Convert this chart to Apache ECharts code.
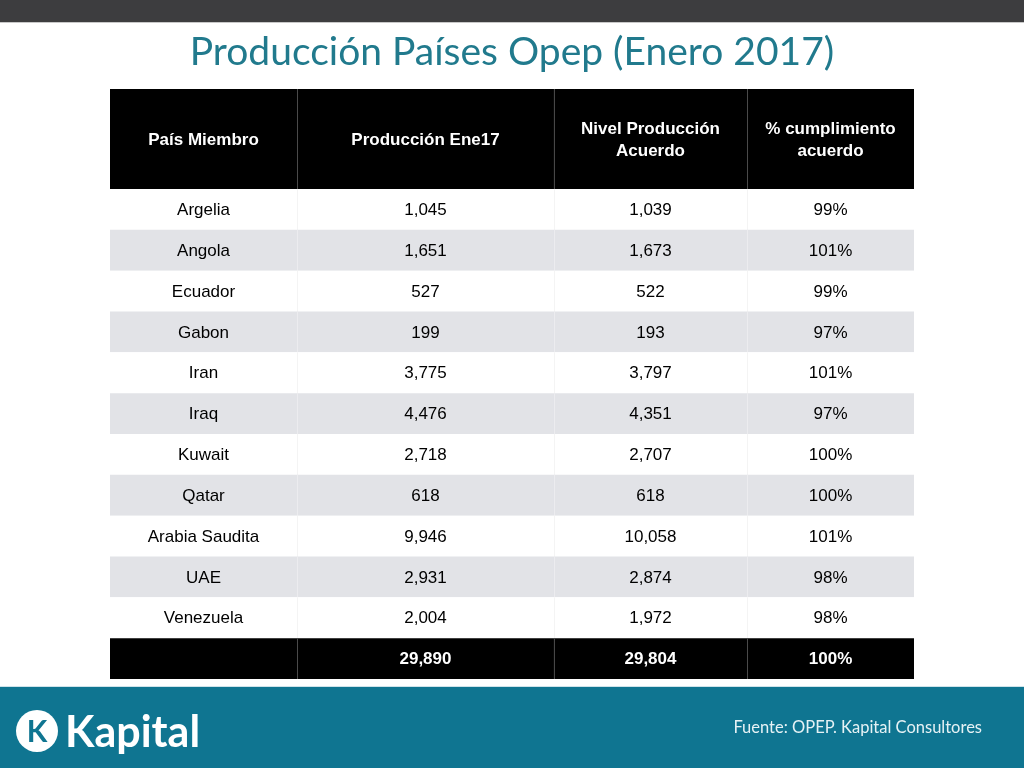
<!DOCTYPE html>
<html>
<head>
<meta charset="utf-8">
<script src="https://cdn.jsdelivr.net/npm/echarts@6/dist/echarts.min.js"></script>
<style>
  html, body { margin: 0; padding: 0; background: #fff; }
  #main { width: 1024px; height: 768px; }
</style>
</head>
<body>
<div id="main"></div>
<script>
// datos de la tabla
var headers = ['País Miembro', 'Producción Ene17', 'Nivel Producción\nAcuerdo', '% cumplimiento\nacuerdo'];
var countries = ['Argelia', 'Angola', 'Ecuador', 'Gabon', 'Iran', 'Iraq', 'Kuwait', 'Qatar', 'Arabia Saudita', 'UAE', 'Venezuela'];
var produccionEne17 = [1045, 1651, 527, 199, 3775, 4476, 2718, 618, 9946, 2931, 2004];
var nivelAcuerdo = [1039, 1673, 522, 193, 3797, 4351, 2707, 618, 10058, 2874, 1972];
var cumplimiento = [99, 101, 99, 97, 101, 97, 100, 100, 101, 98, 98];
var totals = ['', 29890, 29804, 100];

// bordes de columnas (fraccion del ancho de la tabla)
var colEdges = [0, 0.2326, 0.5522, 0.7923, 1];
var FONT = '"Liberation Sans", Arial, Helvetica, sans-serif';

function fmt(n) { return n.toLocaleString('en-US'); }

var rowNames = countries.concat(['Total']);
// cada celda: [columna, fila, texto, tipo]
var headerCells = headers.map(function (h, c) { return [c, 0, h, 'header']; });
var bodyCells = [];
countries.forEach(function (name, r) {
  var kind = r % 2 ? 'odd' : 'even';
  bodyCells.push([0, r, name, kind]);
  bodyCells.push([1, r, fmt(produccionEne17[r]), kind]);
  bodyCells.push([2, r, fmt(nivelAcuerdo[r]), kind]);
  bodyCells.push([3, r, cumplimiento[r] + '%', kind]);
});
totals.forEach(function (v, c) {
  var txt = v === '' ? '' : (c === 3 ? v + '%' : fmt(v));
  bodyCells.push([c, countries.length, txt, 'total']);
});

function renderCell(params, api) {
  var cell = params.seriesIndex === 0 ? headerCells[params.dataIndex] : bodyCells[params.dataIndex];
  var c = api.value(0), r = api.value(1);
  var kind = cell[3];
  var p0 = api.coord([colEdges[c], r]);
  var p1 = api.coord([colEdges[c + 1], r]);
  var h = api.size([0, 1])[1];
  var dark = kind === 'header' || kind === 'total';
  var fill = dark ? '#000' : (kind === 'odd' ? '#e2e3e7' : '#fff');
  var children = [{
    type: 'rect',
    shape: { x: p0[0], y: p0[1] - h / 2, width: p1[0] - p0[0], height: h },
    style: { fill: fill }
  }];
  if (c > 0) {
    children.push({
      type: 'line',
      shape: { x1: p0[0] + 0.5, y1: p0[1] - h / 2, x2: p0[0] + 0.5, y2: p0[1] + h / 2 },
      style: { stroke: dark ? '#4a4a4a' : (kind === 'odd' ? '#ececef' : '#f4f4f4'), lineWidth: 1 }
    });
  }
  children.push({
    type: 'text',
    style: {
      text: cell[2],
      x: (p0[0] + p1[0]) / 2,
      y: p0[1] + 1,
      align: 'center',
      verticalAlign: 'middle',
      fill: dark ? '#fff' : '#000',
      font: (dark ? 'bold ' : '') + '17px ' + FONT,
      lineHeight: 22
    }
  });
  return { type: 'group', children: children };
}

var chart = echarts.init(document.getElementById('main'));
chart.setOption({
  animation: false,
  backgroundColor: '#fff',
  grid: [
    { left: 110, right: 110, top: 89, height: 100 },
    { left: 110, right: 110, top: 189, height: 490 }
  ],
  xAxis: [
    { type: 'value', gridIndex: 0, min: 0, max: 1, show: false },
    { type: 'value', gridIndex: 1, min: 0, max: 1, show: false }
  ],
  yAxis: [
    { type: 'category', gridIndex: 0, data: ['header'], show: false },
    { type: 'category', gridIndex: 1, data: rowNames, inverse: true, show: false }
  ],
  series: [
    {
      type: 'custom', xAxisIndex: 0, yAxisIndex: 0, clip: false,
      renderItem: renderCell,
      data: headerCells.map(function (d) { return [d[0], d[1]]; })
    },
    {
      type: 'custom', xAxisIndex: 1, yAxisIndex: 1, clip: false,
      renderItem: renderCell,
      data: bodyCells.map(function (d) { return [d[0], d[1]]; })
    }
  ],
  graphic: [
    { type: 'rect', left: 0, top: 0, shape: { width: 1024, height: 22 }, style: { fill: '#3d3d3f' } },
    { type: 'rect', left: 0, top: 22, shape: { width: 1024, height: 1 }, style: { fill: '#c8c8c8' } },
    {
      type: 'text', left: 'center', top: 33,
      style: { text: 'Producción Países Opep (Enero 2017)', fill: '#217a8d', font: '39px Lato, "Open Sans", sans-serif' }
    },
    { type: 'rect', left: 0, top: 686, shape: { width: 1024, height: 1 }, style: { fill: '#cfe3ea' } },
    { type: 'rect', left: 0, top: 687, shape: { width: 1024, height: 81 }, style: { fill: '#0f7591' } },
    { type: 'circle', shape: { cx: 37, cy: 731, r: 21 }, style: { fill: '#fff' } },
    {
      type: 'text', x: 37, y: 732,
      style: { text: 'K', fill: '#0f7591', font: 'bold 30px Lato, sans-serif', align: 'center', verticalAlign: 'middle' }
    },
    {
      type: 'text', x: 65, y: 733,
      style: { text: 'Kapital', fill: '#fff', font: 'bold 43px Lato, "Open Sans", sans-serif', verticalAlign: 'middle' }
    },
    {
      type: 'text', right: 42, top: 719,
      style: { text: 'Fuente: OPEP. Kapital Consultores', fill: '#e6f2f5', font: '16.5px Lato, "Open Sans", sans-serif' }
    }
  ]
});
</script>
</body>
</html>
